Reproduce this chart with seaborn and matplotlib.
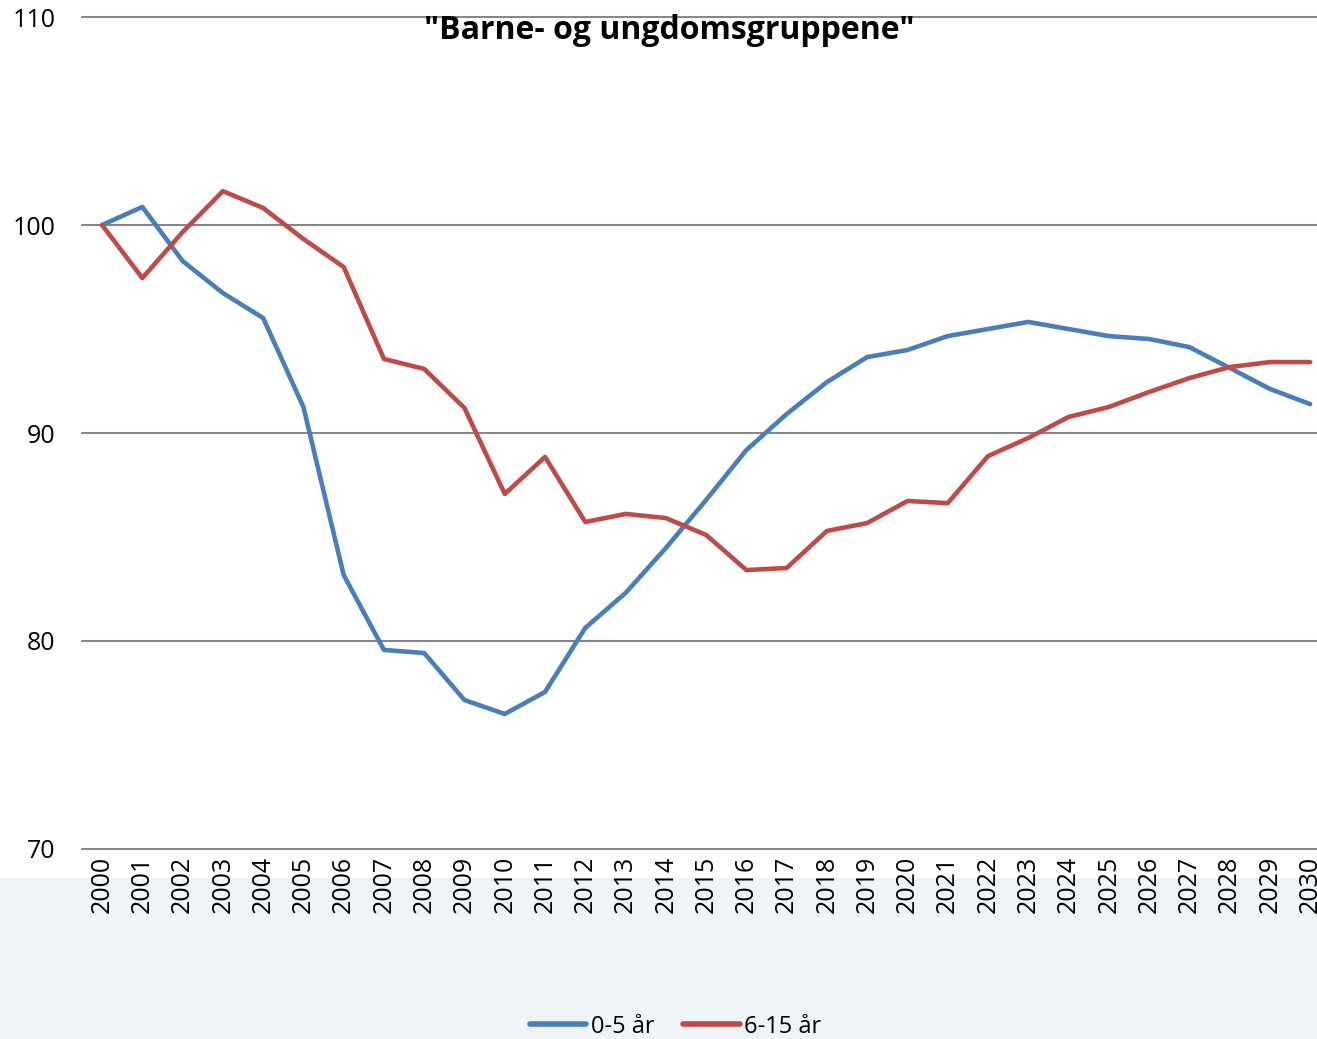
import numpy as np
import pandas as pd
import matplotlib
matplotlib.use("Agg")
import matplotlib.pyplot as plt
import seaborn as sns
from matplotlib.patches import Rectangle

# --- data (index, 2000 = 100) ---
years = list(range(2000, 2031))
age_0_5 = [100.0, 100.87, 98.27, 96.73, 95.53, 91.25, 83.17, 79.57, 79.42, 77.16,
           76.49, 77.55, 80.63, 82.31, 84.47, 86.78, 89.18, 90.91, 92.45, 93.65,
           93.99, 94.66, 95.0, 95.34, 95.0, 94.66, 94.52, 94.13, 93.13, 92.12, 91.39]
age_6_15 = [100.0, 97.45, 99.66, 101.63, 100.82, 99.33, 97.98, 93.56, 93.08, 91.2,
            87.07, 88.85, 85.72, 86.11, 85.91, 85.1, 83.41, 83.51, 85.29, 85.67,
            86.73, 86.63, 88.89, 89.76, 90.77, 91.25, 91.97, 92.64, 93.17, 93.41, 93.41]
series_names = ["0-5 år", "6-15 år"]
colors = ["#4a7ebb", "#be4b48"]
title = '"Barne- og ungdomsgruppene"'
y_ticks = [70, 80, 90, 100, 110]

df = pd.DataFrame({"year": years, series_names[0]: age_0_5, series_names[1]: age_6_15})
long = df.melt(id_vars="year", var_name="gruppe", value_name="indeks")

sns.set_theme(style="white")
plt.rcParams["font.family"] = ["Open Sans", "DejaVu Sans"]
plt.rcParams["text.color"] = "black"
plt.rcParams["xtick.color"] = "black"
plt.rcParams["ytick.color"] = "black"

fig = plt.figure(figsize=(13.17, 10.39), dpi=100)
# light decorative panel at the bottom, behind everything
fig.patches.append(Rectangle((0, 0), 1, 0.155, transform=fig.transFigure,
                             facecolor="#eef4f7", edgecolor="none", zorder=-10))
ax = fig.add_axes([0.0623, 0.1829, 0.9377, 0.8007])
ax.set_zorder(1)
ax.patch.set_alpha(0)

sns.lineplot(data=long, x="year", y="indeks", hue="gruppe", palette=colors,
             linewidth=3.3, ax=ax, legend=False, zorder=3)

ax.set_ylim(70, 110)
ax.set_xlim(1999.503, 2030.17)
ax.set_yticks(y_ticks)
ax.set_xticks(years)
ax.set_xticklabels([str(y) for y in years], rotation=90, fontsize=18)
ax.tick_params(axis="y", labelsize=18, length=0, pad=19, labelcolor="black")
ax.tick_params(axis="x", length=0, pad=5, labelcolor="black")
ax.set_xlabel("")
ax.set_ylabel("")
for y in y_ticks:
    ax.axhline(y, color="#878787", linewidth=1.5, zorder=1, clip_on=False)
for s in ax.spines.values():
    s.set_visible(False)

fig.text(0.508, 0.971, title, ha="center", va="center", fontsize=23,
         fontweight="bold", color="black")

handles = [plt.Line2D([], [], color=c, linewidth=4, solid_capstyle="round") for c in colors]
fig.legend(handles, series_names, loc="center", bbox_to_anchor=(0.513, 0.012),
           ncol=2, frameon=False, fontsize=17, handlelength=2.4,
           handletextpad=0.2, columnspacing=1.2, labelcolor="black")

fig.savefig("out.png", dpi=100)
